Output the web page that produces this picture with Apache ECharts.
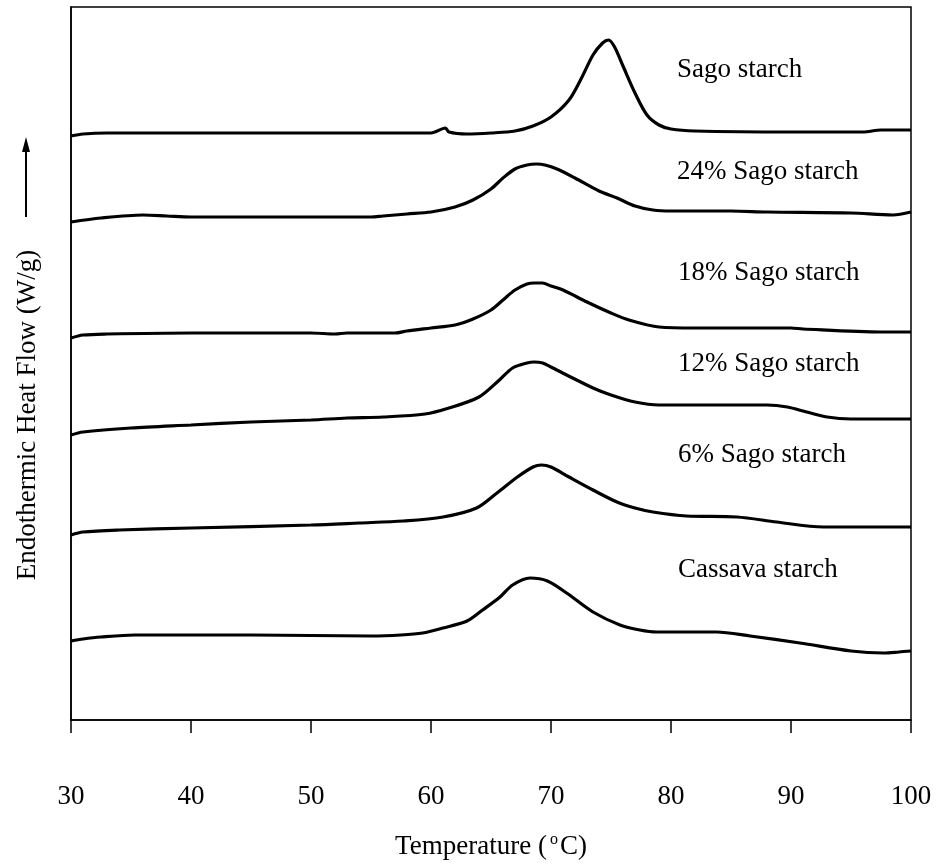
<!DOCTYPE html>
<html>
<head>
<meta charset="utf-8">
<script src="https://cdn.jsdelivr.net/npm/echarts@6/dist/echarts.min.js"></script>
<style>
  html, body { margin: 0; padding: 0; background: #fff; }
  #chart { width: 939px; height: 866px; }
</style>
</head>
<body>
<div id="chart"></div>
<script>
// temperatures (°C) and heat flow readings (arbitrary stacked units) for each thermogram
const sagoT = [30, 31, 33, 40, 50, 60, 61.2, 61.5, 63, 65, 67, 68.5, 70, 71.5, 72.5, 73.5, 74.3, 74.8, 75.3, 76, 77, 78, 79, 80, 82, 90, 96, 97.5, 100]
const sagoV = [584, 586, 587, 587, 587, 587, 592, 588, 586, 587, 589, 594, 603, 620, 641, 665, 677, 680, 673, 654, 627, 605, 595, 591, 589, 588, 588, 590, 590]

const sago24T = [30, 32.5, 36, 38, 40, 50, 55, 56, 58, 60, 62, 63.5, 65, 66, 67, 68, 68.8, 69.5, 70.5, 72, 74, 75.5, 77, 78.5, 80, 85, 88, 95, 98.5, 100]
const sago24V = [498, 502, 505, 504, 503, 503, 503, 504, 506, 508, 513, 520, 531, 542, 551, 555, 556, 555, 551, 542, 529, 522, 514, 510, 509, 509, 508, 507, 505, 508]

const sago18T = [30, 31, 33, 40, 50, 52, 53, 57, 58, 60, 62, 63.5, 65, 66, 67, 68, 68.6, 69.3, 70, 71, 73, 75, 76.5, 79, 82, 90, 91, 97.5, 100]
const sago18V = [382, 385, 386, 387, 387, 386, 387, 387, 389, 392, 395, 401, 410, 420, 430, 436, 437, 437, 434, 430, 418, 407, 400, 393, 392, 392, 391, 388, 388]

const sago12T = [30, 31, 35, 40, 45, 50, 53, 56, 59.5, 61.5, 64, 65.7, 66.8, 68, 68.6, 69.3, 70, 71.3, 73.5, 75, 77, 79, 85, 88, 89.7, 91.3, 93, 95, 100]
const sago12V = [285, 288, 292, 295, 298, 300, 302, 303, 306, 312, 323, 340, 352, 357, 358, 357, 353, 345, 332, 325, 318, 315, 315, 315, 313, 308, 303, 301, 301]

const sago6T = [30, 31, 34, 40, 50, 54, 57.7, 61, 63.8, 65.5, 67.2, 68.5, 69.2, 70, 71.5, 73.5, 75.5, 77, 78.5, 81.3, 85.5, 88.8, 92.7, 100]
const sago6V = [185, 188, 190, 192, 195, 197, 199, 203, 212, 227, 243, 253, 255, 253, 243, 230, 218, 212, 208, 204, 203, 198, 193, 193]

const cassavaT = [30, 31, 32.5, 35.3, 45, 55, 57.5, 59.3, 61, 63, 64.3, 65.75, 66.8, 68.25, 69.7, 71.3, 73.5, 75.75, 77.4, 78.8, 83.8, 86.6, 90.75, 95, 97.7, 99, 100]
const cassavaV = [79, 81, 83, 85, 85, 84, 85, 87, 92, 99, 110, 123, 135, 142, 139, 127, 108, 95, 90, 88, 88, 84, 77, 69, 67, 68, 69]

const curveNames = ['Sago starch', '24% Sago starch', '18% Sago starch', '12% Sago starch', '6% Sago starch', 'Cassava starch']
const xTicks = [30, 40, 50, 60, 70, 80, 90, 100]
// label anchor (left, middle) in page pixels
const labelPos = [[677, 70], [677, 172], [678, 273], [678, 364], [678, 455], [678, 570]]

const FONT = "'Liberation Serif', 'Times New Roman', serif"

const curves = [
  [sagoT, sagoV], [sago24T, sago24V], [sago18T, sago18V],
  [sago12T, sago12V], [sago6T, sago6V], [cassavaT, cassavaV]
]

const chart = echarts.init(document.getElementById('chart'))

const option = {
  animation: false,
  backgroundColor: '#fff',
  grid: {
    left: 71,
    right: 28,
    top: 7,
    bottom: 146,
    show: true,
    borderColor: '#000',
    borderWidth: 1.5
  },
  xAxis: {
    type: 'value',
    min: xTicks[0],
    max: xTicks[xTicks.length - 1],
    interval: 10,
    name: '{t|Temperature (}{s|o}{t|C)}',
    nameLocation: 'middle',
    nameGap: 112,
    nameTextStyle: {
      rich: {
        t: { fontFamily: FONT, fontSize: 27, color: '#000' },
        s: { fontFamily: FONT, fontSize: 16, color: '#000', verticalAlign: 'top', padding: [0, 2, 14, 3] }
      }
    },
    axisLine: { lineStyle: { color: '#000', width: 1.5 } },
    axisTick: { length: 13, lineStyle: { color: '#000', width: 1.5 } },
    axisLabel: {
      margin: 63,
      fontFamily: FONT,
      fontSize: 27,
      color: '#000'
    },
    splitLine: { show: false }
  },
  yAxis: {
    type: 'value',
    min: 0,
    max: 713,
    axisLine: { show: true, lineStyle: { color: '#000', width: 1.5 } },
    axisTick: { show: false },
    axisLabel: { show: false },
    splitLine: { show: false }
  },
  series: curves.map(function (c, i) {
    return {
      name: curveNames[i],
      type: 'line',
      data: c[0].map(function (t, j) { return [t, c[1][j]] }),
      showSymbol: false,
      smooth: 0.3,
      lineStyle: { color: '#000', width: 3.2 }
    }
  }),
  graphic: [
    {
      type: 'text',
      x: 28,
      y: 415,
      rotation: Math.PI / 2,
      style: {
        text: 'Endothermic Heat Flow (W/g)',
        font: '27px ' + FONT,
        fill: '#000',
        align: 'center',
        verticalAlign: 'middle'
      }
    },
    {
      type: 'line',
      shape: { x1: 26, y1: 150, x2: 26, y2: 217 },
      style: { stroke: '#000', lineWidth: 2 }
    },
    {
      type: 'polygon',
      shape: { points: [[26, 137], [22, 152], [30, 152]] },
      style: { fill: '#000' }
    }
  ].concat(curveNames.map(function (n, i) {
    return {
      type: 'text',
      x: labelPos[i][0],
      y: labelPos[i][1],
      style: {
        text: n,
        font: '27px ' + FONT,
        fill: '#000',
        align: 'left',
        verticalAlign: 'middle'
      }
    }
  }))
}

chart.setOption(option)
</script>
</body>
</html>
